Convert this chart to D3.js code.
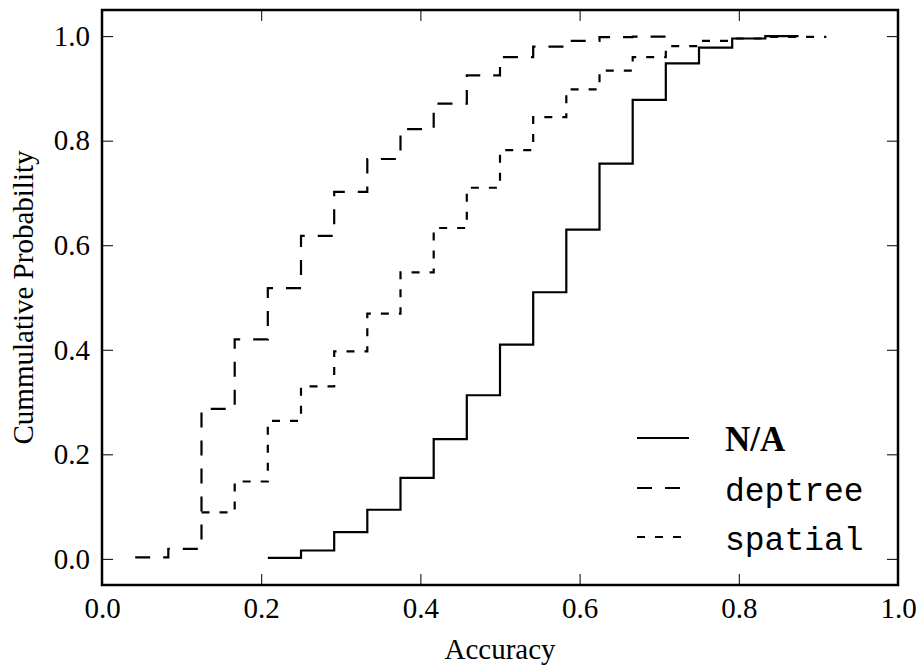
<!DOCTYPE html>
<html>
<head>
<meta charset="utf-8">
<script src="https://cdn.jsdelivr.net/npm/d3@7"></script>
<style>
  html, body { margin: 0; padding: 0; background: #fff; }
  svg { display: block; }
  .tick line { stroke: #000; stroke-width: 1; }
  .domain { display: none; }
</style>
</head>
<body>
<svg id="chart" width="921" height="670"></svg>
<script>
// Accuracy levels (x) and the cumulative probability reached at each level (y)
const naX      = [0.2083, 0.25, 0.2917, 0.3333, 0.375, 0.4167, 0.4583, 0.5, 0.5417, 0.5833, 0.625, 0.6667, 0.7083, 0.75, 0.7917, 0.8333, 0.875];
const naY      = [0.002, 0.016, 0.051, 0.094, 0.155, 0.229, 0.313, 0.410, 0.510, 0.630, 0.756, 0.878, 0.948, 0.978, 0.9955, 1.0, 1.0];

const deptreeX = [0.0417, 0.0833, 0.125, 0.1667, 0.2083, 0.25, 0.2917, 0.3333, 0.375, 0.4167, 0.4583, 0.5, 0.5417, 0.5833, 0.625, 0.6667, 0.7083];
const deptreeY = [0.003, 0.019, 0.287, 0.420, 0.518, 0.618, 0.702, 0.765, 0.822, 0.871, 0.925, 0.960, 0.980, 0.991, 0.998, 0.999, 0.999];

const spatialX = [0.125, 0.1667, 0.2083, 0.25, 0.2917, 0.3333, 0.375, 0.4167, 0.4583, 0.5, 0.5417, 0.5833, 0.625, 0.6667, 0.7083, 0.75, 0.7917, 0.8333, 0.91];
const spatialY = [0.089, 0.148, 0.264, 0.330, 0.397, 0.469, 0.548, 0.633, 0.710, 0.782, 0.845, 0.898, 0.934, 0.960, 0.981, 0.991, 0.9955, 0.9985, 0.9985];

const seriesNames = ["N/A", "deptree", "spatial"];
const xTicks = [0.0, 0.2, 0.4, 0.6, 0.8, 1.0];
const yTicks = [0.0, 0.2, 0.4, 0.6, 0.8, 1.0];

const series = [
  { name: seriesNames[0], xs: naX,      ys: naY,      dash: null,    font: "'Liberation Serif', serif", weight: "bold", size: 35 },
  { name: seriesNames[1], xs: deptreeX, ys: deptreeY, dash: "15,13", font: "'Liberation Mono', monospace", weight: "normal", size: 33 },
  { name: seriesNames[2], xs: spatialX, ys: spatialY, dash: "8,10",  font: "'Liberation Mono', monospace", weight: "normal", size: 33 }
];

const svg = d3.select("#chart");
const margin = { left: 102, right: 23, top: 10, bottom: 85 };
const W = 921, H = 670;
const x = d3.scaleLinear().domain([0, 1]).range([margin.left, W - margin.right]);
const y = d3.scaleLinear().domain([-0.05, 1.05]).range([H - margin.bottom, margin.top]);

const serif = "'Liberation Serif', 'Times New Roman', serif";
const tickFont = 29;
const titleFont = 29;
const tickLen = 11;
const fmt = d3.format(".1f");

// Axes with inward ticks on all four sides
svg.append("g")
  .attr("transform", `translate(0,${y(-0.05)})`)
  .call(d3.axisBottom(x).tickValues(xTicks).tickFormat(fmt).tickSizeInner(-tickLen).tickSizeOuter(0).tickPadding(12))
  .call(g => g.selectAll("text").attr("font-family", serif).attr("font-size", tickFont).attr("fill", "#000"));

svg.append("g")
  .attr("transform", `translate(0,${y(1.05)})`)
  .call(d3.axisTop(x).tickValues(xTicks).tickFormat("").tickSizeInner(-tickLen).tickSizeOuter(0));

svg.append("g")
  .attr("transform", `translate(${x(0)},0)`)
  .call(d3.axisLeft(y).tickValues(yTicks).tickFormat(fmt).tickSizeInner(-tickLen).tickSizeOuter(0).tickPadding(12))
  .call(g => g.selectAll("text").attr("font-family", serif).attr("font-size", tickFont).attr("fill", "#000"));

svg.append("g")
  .attr("transform", `translate(${x(1)},0)`)
  .call(d3.axisRight(y).tickValues(yTicks).tickFormat("").tickSizeInner(-tickLen).tickSizeOuter(0));

// Step curves of the cumulative distributions
const line = d3.line()
  .x(d => x(d[0]))
  .y(d => y(d[1]))
  .curve(d3.curveStepAfter);

series.forEach(s => {
  const pts = s.xs.map((v, i) => [v, s.ys[i]]);
  svg.append("path")
    .datum(pts)
    .attr("d", line)
    .attr("fill", "none")
    .attr("stroke", "#000")
    .attr("stroke-width", 2.2)
    .attr("stroke-dasharray", s.dash);
});

// Frame
svg.append("rect")
  .attr("x", x(0)).attr("y", y(1.05))
  .attr("width", x(1) - x(0)).attr("height", y(-0.05) - y(1.05))
  .attr("fill", "none").attr("stroke", "#000").attr("stroke-width", 2.5);

// Axis titles
svg.append("text")
  .attr("x", (x(0) + x(1)) / 2).attr("y", 659)
  .attr("text-anchor", "middle")
  .attr("font-family", serif).attr("font-size", titleFont)
  .text("Accuracy");

svg.append("text")
  .attr("transform", `translate(33,${(y(-0.05) + y(1.05)) / 2}) rotate(-90)`)
  .attr("text-anchor", "middle")
  .attr("font-family", serif).attr("font-size", titleFont)
  .text("Cummulative Probability");

// Legend
const legend = svg.append("g");
const legendY = [438, 488, 537];
series.forEach((s, i) => {
  legend.append("line")
    .attr("x1", 637).attr("x2", 689)
    .attr("y1", legendY[i]).attr("y2", legendY[i])
    .attr("stroke", "#000").attr("stroke-width", 2.2)
    .attr("stroke-dasharray", s.dash);
  legend.append("text")
    .attr("x", 725).attr("y", legendY[i] + 13)
    .attr("font-family", s.font).attr("font-size", s.size).attr("font-weight", s.weight)
    .text(s.name);
});
</script>
</body>
</html>
